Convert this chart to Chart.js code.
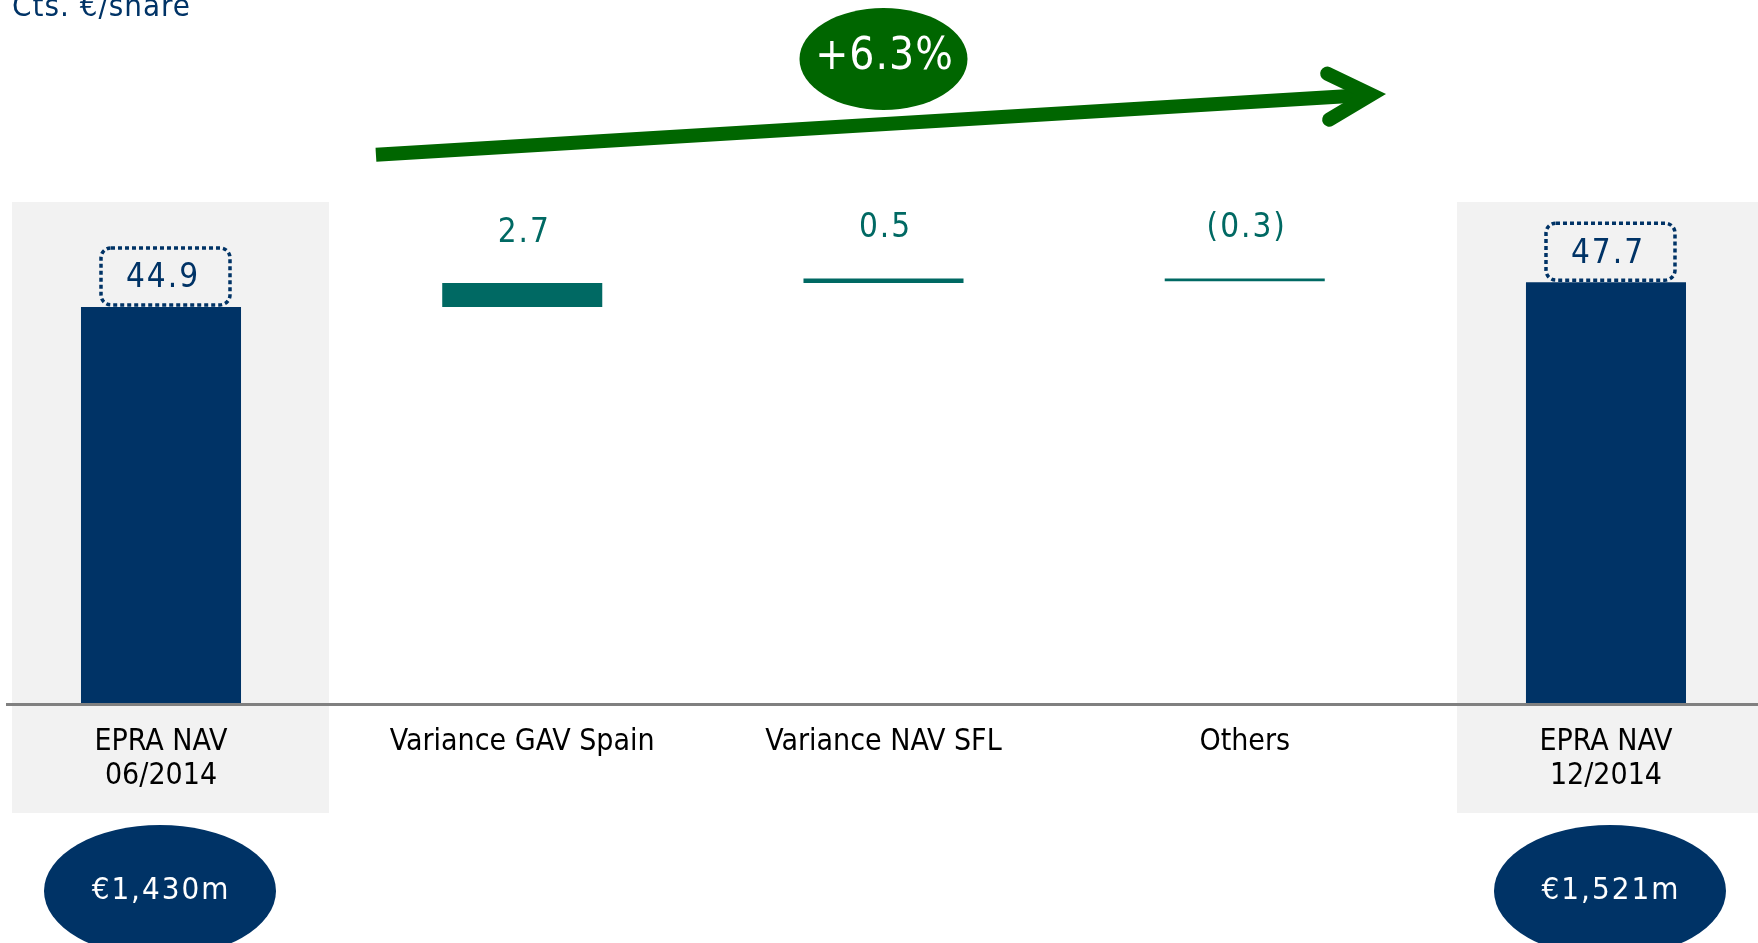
<!DOCTYPE html>
<html>
<head>
<meta charset="utf-8">
<title>EPRA NAV bridge</title>
<script src="https://cdn.jsdelivr.net/npm/chart.js@4.4.1/dist/chart.umd.min.js"></script>
<style>
  html, body { margin:0; padding:0; background:#fff; overflow:hidden; }
</style>
</head>
<body>
<canvas id="navChart" width="1758" height="943"></canvas>
<script>
// EPRA NAV bridge, cts. €/share, 06/2014 -> 12/2014
const categories = [["EPRA NAV", "06/2014"], "Variance GAV Spain", "Variance NAV SFL", "Others", ["EPRA NAV", "12/2014"]];
const navStart = 44.9;
const variances = [2.7, 0.5, -0.3];
const navEnd = 47.7;
const navMillions = [1430, 1521];   // total NAV, € m
const navGrowth = 6.3;              // % change over the half year

const NAVY = "#003366";
const TEAL = "#006963";
const GREEN = "#006600";
const FONT = '"DejaVu Sans Condensed", "DejaVu Sans", sans-serif';

// floating bars for the bridge: totals start at zero, variances run on from the previous level
const bars = [{ x: 0, y: [0, navStart] }];
let level = navStart;
variances.forEach((v, i) => {
  bars.push({ x: i + 1, y: [level, level + v] });
  level += v;
});
bars.push({ x: categories.length - 1, y: [0, navEnd] });
const barValues = [navStart, ...variances, navEnd];
const isTotal = i => i === 0 || i === categories.length - 1;

function fmtVar(v){
  return v < 0 ? "(" + Math.abs(v).toFixed(1) + ")" : v.toFixed(1);
}
function fmtMillions(m){
  return "€" + m.toLocaleString("en-US") + "m";
}

// grey panels behind the two total columns
const panelsPlugin = {
  id: "panels",
  beforeDraw(chart){
    const ctx = chart.ctx, x = chart.scales.x;
    ctx.save();
    ctx.fillStyle = "#f2f2f2";
    [0, categories.length - 1].forEach(i => {
      const l = x.getPixelForValue(i - 0.4125);
      const r = Math.min(x.getPixelForValue(i + 0.465), chart.width);
      ctx.fillRect(l, 202, r - l, 611);
    });
    ctx.restore();
  }
};

function rounded(ctx, x, y, w, h, r){
  ctx.beginPath();
  ctx.roundRect(x, y, w, h, r);
}

// value labels, unit title, growth arrow and the € m bubbles
const labelsPlugin = {
  id: "labels",
  afterDraw(chart){
    const ctx = chart.ctx, xs = chart.scales.x, ys = chart.scales.y;
    const meta = chart.getDatasetMeta(0);
    ctx.save();
    ctx.textAlign = "center";
    ctx.textBaseline = "middle";

    meta.data.forEach((bar, i) => {
      const top = Math.min(bar.y, bar.base);
      if(isTotal(i)){
        const ty = top - 31;
        ctx.strokeStyle = NAVY;
        ctx.lineWidth = 3.5;
        ctx.setLineDash([4, 3]);
        rounded(ctx, bar.x - 60, ty - 28, 129, 57, 10);
        ctx.stroke();
        ctx.setLineDash([]);
        ctx.fillStyle = NAVY;
        ctx.font = "33px " + FONT;
        ctx.letterSpacing = "2px";
        ctx.fillText(barValues[i].toFixed(1), bar.x + 2, ty + 3);
      } else {
        ctx.fillStyle = TEAL;
        ctx.font = "33px " + FONT;
        ctx.letterSpacing = "2px";
        ctx.fillText(fmtVar(barValues[i]), bar.x + 2, top - 50);
      }
    });

    // unit title
    ctx.textAlign = "left";
    ctx.textBaseline = "alphabetic";
    ctx.fillStyle = NAVY;
    ctx.font = "31px " + FONT;
    ctx.letterSpacing = "1px";
    ctx.fillText("Cts. €/share", 12, 16);

    // growth arrow
    const ax0 = xs.getPixelForValue(0.595), ay0 = ys.getPixelForValue(62.1);
    const ax1 = xs.getPixelForValue(3.35), ay1 = ys.getPixelForValue(68.9);
    ctx.strokeStyle = GREEN;
    ctx.lineWidth = 14;
    ctx.lineCap = "butt";
    ctx.beginPath();
    ctx.moveTo(ax0, ay0);
    ctx.lineTo(ax1 - 9, ay1 + 0.6);
    ctx.stroke();
    ctx.lineCap = "round";
    ctx.lineJoin = "miter";
    ctx.beginPath();
    ctx.moveTo(ax1 - 44, ay1 - 21);
    ctx.lineTo(ax1, ay1);
    ctx.lineTo(ax1 - 42, ay1 + 25);
    ctx.stroke();

    // growth bubble
    const gx = xs.getPixelForValue(2);
    ctx.fillStyle = GREEN;
    ctx.beginPath();
    ctx.ellipse(gx, 59, 84, 51, 0, 0, Math.PI * 2);
    ctx.fill();
    ctx.fillStyle = "#fff";
    ctx.textAlign = "center";
    ctx.textBaseline = "middle";
    ctx.font = "44px " + FONT;
    ctx.letterSpacing = "1px";
    ctx.fillText("+" + navGrowth.toFixed(1) + "%", gx + 1, 58);

    // € m bubbles under the totals
    [0, categories.length - 1].forEach((ci, k) => {
      const cx = xs.getPixelForValue(ci) + (k ? 4 : -1);
      ctx.fillStyle = NAVY;
      ctx.beginPath();
      ctx.ellipse(cx, 891, 116, 66, 0, 0, Math.PI * 2);
      ctx.fill();
      ctx.fillStyle = "#fff";
      ctx.font = "31px " + FONT;
      ctx.letterSpacing = "2px";
      ctx.fillText(fmtMillions(navMillions[k]), cx + 1, 891);
    });
    ctx.restore();
  }
};

new Chart(document.getElementById("navChart"), {
  type: "bar",
  data: {
    datasets: [{
      data: bars,
      backgroundColor: bars.map((b, i) => isTotal(i) ? NAVY : TEAL),
      borderWidth: 0,
      categoryPercentage: 1,
      barPercentage: 0.443
    }]
  },
  options: {
    responsive: false,
    animation: false,
    layout: { padding: { left: 7, top: 0, right: 0, bottom: 0 } },
    plugins: { legend: { display: false }, tooltip: { enabled: false } },
    scales: {
      x: {
        type: "linear",
        offset: false,
        min: -0.4263,
        max: 4.4208,
        grid: { display: false, drawTicks: false, offset: false },
        border: { display: true, color: "#808080", width: 3, z: 1 },
        afterBuildTicks: s => { s.ticks = categories.map((c, i) => ({ value: i })); },
        afterFit: s => { s.height = 239; },
        ticks: {
          autoSkip: false,
          maxRotation: 0,
          padding: 21,
          color: "#000",
          font: { family: FONT, size: 30, lineHeight: 1.13 },
          callback: v => categories[v]
        }
      },
      y: { display: false, min: 0, max: 79.6 }
    }
  },
  plugins: [panelsPlugin, labelsPlugin]
});
</script>
</body>
</html>
